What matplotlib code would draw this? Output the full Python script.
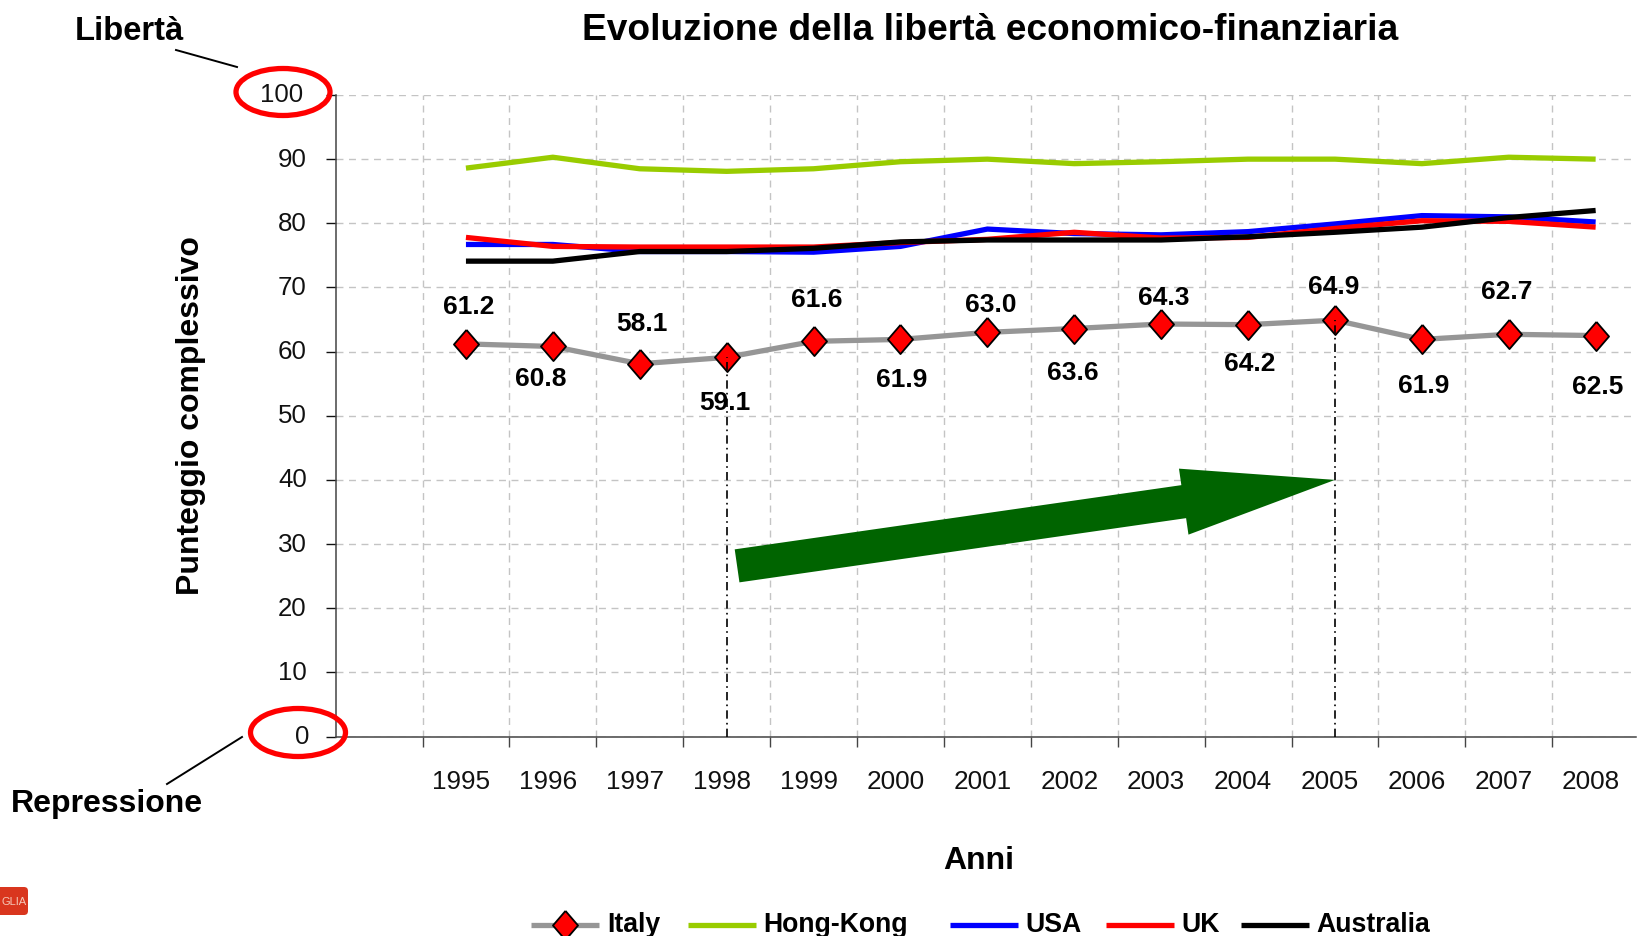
import matplotlib
matplotlib.use("Agg")
import matplotlib.pyplot as plt
from matplotlib.lines import Line2D
from matplotlib.patches import Ellipse, FancyArrowPatch, FancyBboxPatch
from matplotlib.transforms import Affine2D, ScaledTranslation

plt.rcParams['font.family'] = ['Liberation Sans', 'DejaVu Sans']

years = list(range(1995, 2009))
italy = [61.2, 60.8, 58.1, 59.1, 61.6, 61.9, 63.0, 63.6, 64.3, 64.2, 64.9, 61.9, 62.7, 62.5]
hong_kong = [88.6, 90.3, 88.5, 88.1, 88.5, 89.6, 90.0, 89.3, 89.6, 90.0, 90.0, 89.3, 90.3, 90.0]
usa = [76.7, 76.7, 75.6, 75.6, 75.5, 76.4, 79.1, 78.4, 78.2, 78.7, 79.9, 81.2, 81.0, 80.2]
uk = [77.8, 76.4, 76.3, 76.3, 76.3, 77.0, 77.5, 78.6, 77.7, 77.8, 79.2, 80.4, 80.3, 79.4]
australia = [74.1, 74.1, 75.6, 75.6, 76.1, 77.1, 77.4, 77.4, 77.4, 77.9, 78.6, 79.4, 80.9, 82.0]
# label offsets in pixels (dx, dy up) from each Italy point
label_offsets = [(3, 38), (-12, -32), (2, 41), (-2, -45), (3, 42), (1, -40), (3, 28), (-1, -43),
                 (3, 27), (2, -38), (-1, 34), (2, -46), (-2, 43), (2, -50)]
reference_years = [1998, 2005]

W, H = 1638, 937
fig = plt.figure(figsize=(W / 100, H / 100), dpi=100)
L, R, T, B = 335.6, 1636, 96, 737.5
UNIT = 86.9
ax = fig.add_axes([L / W, 1 - B / H, (R - L) / W, (B - T) / H])
ax.set_xlim(0, (R - L) / UNIT)
ax.set_ylim(0, 100)
px = Affine2D().scale(1, -1).translate(0, H)  # reference pixels, origin top-left

xs = [i + 1.5 for i in range(len(years))]

ax.set_yticks(range(0, 101, 10))
ax.set_xticks(range(1, 15))
ax.set_xticklabels([])
ax.grid(True, color='#c4c4c4', linestyle=(0, (5, 4)), linewidth=1.0)
ax.set_axisbelow(True)
for s in ('top', 'right'):
    ax.spines[s].set_visible(False)
for s in ('left', 'bottom'):
    ax.spines[s].set_color('#444444')
    ax.spines[s].set_linewidth(1.1)
ax.tick_params(axis='both', length=7.2, width=1.0, color='#444444')
ax.tick_params(axis='y', labelsize=18.6, pad=13.5, colors='#111111')
for lab, val in zip(ax.get_yticklabels(), range(0, 101, 10)):
    dx = {100: -4, 0: 3}.get(val, 0)
    lab.set_transform(lab.get_transform() + ScaledTranslation(dx / 100, 3 / 100, fig.dpi_scale_trans))

for x, y in zip(xs, years):
    ax.annotate(str(y), (x, 0), xytext=(-5, -45), textcoords='offset pixels',
                ha='center', va='center', fontsize=18.8, color='#111111', annotation_clip=False)

LW = 3.8
series = [('Hong-Kong', hong_kong, '#99CC00'), ('USA', usa, '#0000FF'),
          ('UK', uk, '#FF0000'), ('Australia', australia, '#000000')]
for name, vals, c in series:
    ax.plot(xs, vals, color=c, lw=LW, solid_joinstyle='miter', solid_capstyle='butt', zorder=3)

diamond = [(0, 1), (0.86, 0), (0, -1), (-0.86, 0), (0, 1)]
ax.plot(xs, italy, color='#969696', lw=LW, marker=diamond, ms=21, mfc='#FF0000', mec='black',
        mew=1.3, solid_capstyle='butt', clip_on=False, zorder=4)

for (x, v), (dx, dy) in zip(zip(xs, italy), label_offsets):
    ax.annotate(f'{v:.1f}', (x, v), xytext=(dx, dy), textcoords='offset pixels', ha='center',
                va='center', fontsize=19, fontweight='bold', color='black', zorder=6, annotation_clip=False)

for yr in reference_years:
    i = years.index(yr)
    ax.plot([xs[i], xs[i]], [0, italy[i]], color='black', lw=1.2, linestyle=(0, (5, 2.5, 1, 2.5)), zorder=5)

# Trend arrow
i1 = years.index(2005)
arrow = FancyArrowPatch((4.62, 26.6), (xs[i1], 40), arrowstyle='simple,head_length=11,head_width=4.8,tail_width=2.4',
                        mutation_scale=10, color='#006400', lw=0, shrinkA=0, shrinkB=0, zorder=4)
ax.add_patch(arrow)

# Text
fig.text(990 / W, 1 - 31 / H, 'Evoluzione della libertà economico-finanziaria', ha='center', va='center',
         fontsize=26.7, fontweight='bold')
fig.text(129 / W, 1 - 32 / H, 'Libertà', ha='center', va='center', fontsize=23.6, fontweight='bold')
fig.text(107 / W, 1 - 804 / H, 'Repressione', ha='center', va='center', fontsize=23, fontweight='bold')
fig.text(191 / W, 1 - 416 / H, 'Punteggio complessivo', rotation=90, ha='center', va='center',
         fontsize=23, fontweight='bold')
fig.text(979 / W, 1 - 861 / H, 'Anni', ha='center', va='center', fontsize=23, fontweight='bold')

# Callouts
for cx, cy, w, h in [(283, 93, 94, 47), (298, 733.5, 95, 48)]:
    fig.add_artist(Ellipse((cx, cy), w, h, fill=False, edgecolor='#FF0000', lw=3.8, transform=px, zorder=8))
for xx, yy in [((176, 237), (51, 68)), ((242, 167), (738, 785))]:
    fig.add_artist(Line2D(xx, yy, color='black', lw=1.4, transform=px))

# Legend
legend_items = [('Italy', '#969696', 531, 607), ('Hong-Kong', '#99CC00', 688, 763), ('USA', '#0000FF', 950, 1025),
                ('UK', '#FF0000', 1106, 1181), ('Australia', '#000000', 1241, 1316)]
ly = 925.5
for name, c, hx, tx in legend_items:
    fig.add_artist(Line2D([hx, hx + 68], [ly, ly], color=c, lw=LW, transform=px, solid_capstyle='butt'))
    fig.text(tx / W, 1 - (ly + 0) / H, name, ha='left', va='center', fontsize=19.2, fontweight='bold')
fig.add_artist(Line2D([565], [ly], marker=diamond, ms=21, mfc='#FF0000', mec='black', mew=1.3, transform=px))

# Cropped badge at lower left
fig.add_artist(FancyBboxPatch((-20, 889), 47, 26, boxstyle='round,pad=1,rounding_size=4', facecolor='#D9361E',
                              edgecolor='none', transform=px))
fig.text(2 / W, 1 - 902 / H, 'GLIA', ha='left', va='center', fontsize=8, color='#F5C8B8')

fig.savefig('out.png', dpi=100)
